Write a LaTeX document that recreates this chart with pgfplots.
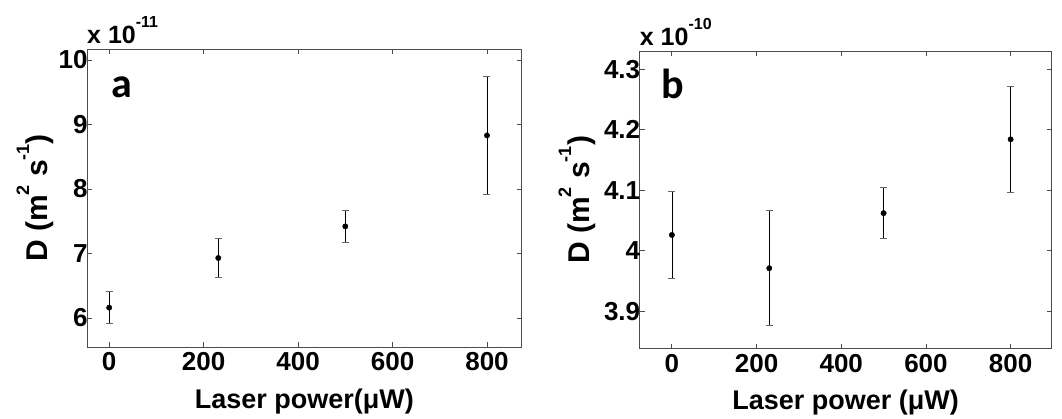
\documentclass[border=0pt]{standalone}
\usepackage{fontspec}
\setmainfont{Liberation Sans}
\newfontfamily\calibri{Carlito}
\usepackage{pgfplots}
\usepackage{pgfplotstable}
\pgfplotsset{compat=1.18}
\newcommand\sups[1]{\raisebox{18pt}{\fontsize{18}{20}\selectfont #1}}

\pgfplotstableread{
x y e
0 6.16 0.245
231 6.93 0.30
500 7.42 0.245
800 8.83 0.91
}\dataA
\pgfplotstableread{
x y e
0 4.026 0.072
230 3.971 0.095
500 4.062 0.042
800 4.184 0.087
}\dataB

\pgfplotsset{
  mystyle/.style={
    anchor=south west, scale only axis,
    tick align=inside, major tick length=5pt,
    axis line style={black!70, line width=0.8pt},
    tick style={black!70, line width=0.8pt},
    ticklabel style={font=\fontsize{26}{29}\selectfont\bfseries},
    /pgf/number format/assume math mode=true,
    xtick={0,200,400,600,800},
    xticklabel style={yshift=-2pt},
    yticklabel style={xshift=4pt},
    xlabel style={font=\fontsize{27}{30}\selectfont\bfseries, at={(axis description cs:0.5,0)}, anchor=base, yshift=-61pt},
    ylabel style={font=\fontsize{30}{33}\selectfont\bfseries, anchor=base},
    clip=false,
  },
  mydata/.style={
    only marks, mark=*, mark size=2.7pt, color=black,
    mark options={fill=black, draw=black},
    error bars/.cd, y dir=both, y explicit,
    error mark=|,
    error bar style={black, line width=0.6pt},
    error mark options={black!60, mark size=3.5pt, line width=0.8pt},
  }
}

\begin{document}
\begin{tikzpicture}
\begin{axis}[mystyle,
  at={(87pt,71pt)}, width=434.7pt, height=298pt,
  xmin=-47, xmax=873.5, ymin=5.55, ymax=10.17,
  ytick={6,7,8,9,10}, yticklabels={6,7,8,9,10},
  xlabel={Laser power(μW)},
  ylabel={D (m\sups{2} s\sups{-1})},
  ylabel style={at={(axis description cs:-0.092,0.5)}},
]
\addplot[mydata] table[x=x, y=y, y error=e] {\dataA};
\node[anchor=base west, inner sep=0pt, font=\fontsize{25}{28}\selectfont\bfseries] at (axis description cs:0,1.02) {x 10\raisebox{16pt}{\fontsize{16}{18}\selectfont\bfseries -11}};
\node[anchor=base west, inner sep=0pt, font=\fontsize{42}{46}\selectfont\calibri\bfseries] at (axis description cs:0.055,0.836) {a};
\end{axis}

\begin{axis}[mystyle,
  at={(639.7pt,69.3pt)}, width=412pt, height=297.7pt,
  xmin=-76, xmax=897, ymin=3.838, ymax=4.33,
  ytick={3.9,4.0,4.1,4.2,4.3}, yticklabels={3.9,4,4.1,4.2,4.3},
  xlabel={Laser power (μW)},
  ylabel={D (m\sups{2} s\sups{-1})},
  ylabel style={at={(axis description cs:-0.123,0.5)}},
]
\addplot[mydata] table[x=x, y=y, y error=e] {\dataB};
\node[anchor=base west, inner sep=0pt, font=\fontsize{25}{28}\selectfont\bfseries] at (axis description cs:0,1.02) {x 10\raisebox{16pt}{\fontsize{16}{18}\selectfont\bfseries -10}};
\node[anchor=base west, inner sep=0pt, font=\fontsize{42}{46}\selectfont\calibri\bfseries] at (axis description cs:0.052,0.842) {b};
\end{axis}
\pgfresetboundingbox
\path[use as bounding box] (0pt,0pt) rectangle (1062pt,418pt);
\end{tikzpicture}
\end{document}
